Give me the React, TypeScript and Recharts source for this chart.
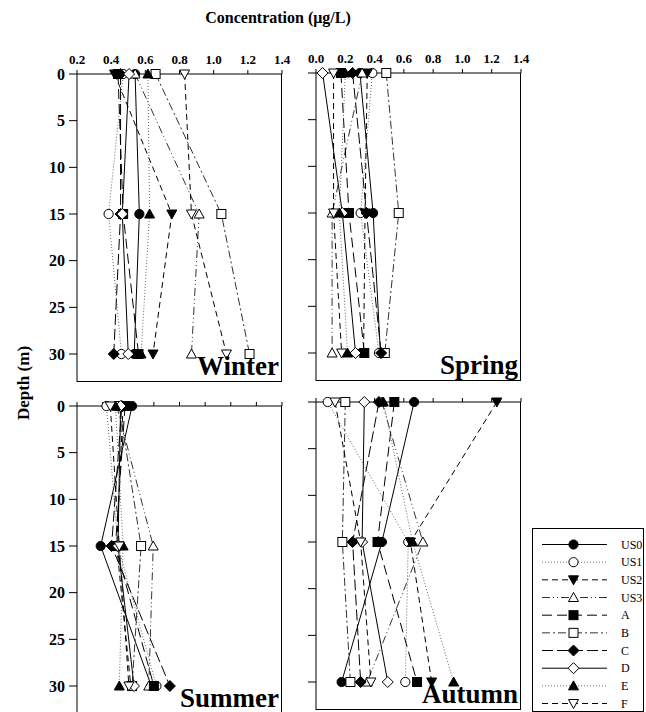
import { LineChart, Line, XAxis, YAxis } from 'recharts'

const depths = [0, 15, 30]
const depthTicks = [0, 5, 10, 15, 20, 25, 30]
const sites = ['US0', 'US1', 'US2', 'US3', 'A', 'B', 'C', 'D', 'E', 'F']

const winterTicks = [0.2, 0.4, 0.6, 0.8, 1.0, 1.2, 1.4]
const springTicks = [0, 0.2, 0.4, 0.6, 0.8, 1.0, 1.2, 1.4]
const summerTicks = [0, 0.2, 0.4, 0.6, 0.8, 1.0, 1.2, 1.4, 1.6]

// concentration at 0, 15 and 30 m, one row per site (same order as sites)
const winter = [
  [0.54, 0.565, 0.535],
  [0.47, 0.385, 0.46],
  [0.42, 0.755, 0.645],
  [0.54, 0.915, 0.87],
  [0.44, 0.47, 0.56],
  [0.66, 1.045, 1.21],
  [0.455, 0.455, 0.415],
  [0.505, 0.465, 0.5],
  [0.615, 0.625, 0.575],
  [0.83, 0.87, 1.075],
]
const spring = [
  [0.3, 0.39, 0.44],
  [0.385, 0.305, 0.43],
  [0.35, 0.335, 0.325],
  [0.315, 0.11, 0.11],
  [0.17, 0.225, 0.33],
  [0.48, 0.565, 0.47],
  [0.25, 0.345, 0.445],
  [0.045, 0.18, 0.27],
  [0.2, 0.16, 0.215],
  [0.12, 0.12, 0.175],
]
const summer = [
  [0.43, 0.185, 0.58],
  [0.23, 0.32, 0.62],
  [0.36, 0.31, 0.42],
  [0.31, 0.595, 0.56],
  [0.375, 0.3, 0.6],
  [0.33, 0.5, 0.43],
  [0.35, 0.27, 0.725],
  [0.34, 0.32, 0.445],
  [0.3, 0.36, 0.33],
  [0.26, 0.33, 0.405],
]
const autumn = [
  [0.67, 0.45, 0.175],
  [0.08, 0.63, 0.61],
  [1.235, 0.645, 0.79],
  [0.45, 0.73, 0.35],
  [0.535, 0.42, 0.69],
  [0.2, 0.18, 0.235],
  [0.43, 0.25, 0.305],
  [0.33, 0.315, 0.49],
  [0.46, 0.66, 0.94],
  [0.13, 0.305, 0.375],
]

type Shape = 'circle' | 'down' | 'up' | 'square' | 'diamond'
const looks: { shape: Shape; filled: boolean; dash?: string; color: string }[] = [
  { shape: 'circle', filled: true, color: '#000' },
  { shape: 'circle', filled: false, dash: '1 2', color: '#666' },
  { shape: 'down', filled: true, dash: '6 4', color: '#000' },
  { shape: 'up', filled: false, dash: '8 3 1 3 1 3', color: '#333' },
  { shape: 'square', filled: true, dash: '10 5', color: '#000' },
  { shape: 'square', filled: false, dash: '8 3 2 3', color: '#333' },
  { shape: 'diamond', filled: true, dash: '11 4', color: '#000' },
  { shape: 'diamond', filled: false, color: '#000' },
  { shape: 'up', filled: true, dash: '1 2', color: '#666' },
  { shape: 'down', filled: false, dash: '6 4', color: '#000' },
]

const serif = '"Liberation Serif", "Times New Roman", serif'

function Marker({ cx, cy, shape, filled }: { cx?: number; cy?: number; shape: Shape; filled: boolean }) {
  if (cx == null || cy == null) return null
  const p = { fill: filled ? '#000' : '#fff', stroke: '#000', strokeWidth: 1 }
  if (shape === 'circle') return <circle cx={cx} cy={cy} r={4.6} {...p} />
  if (shape === 'square') return <rect x={cx - 4.5} y={cy - 4.5} width={9} height={9} {...p} />
  if (shape === 'diamond')
    return <polygon points={`${cx},${cy - 5.5} ${cx + 5.5},${cy} ${cx},${cy + 5.5} ${cx - 5.5},${cy}`} {...p} />
  if (shape === 'up') return <polygon points={`${cx},${cy - 5} ${cx + 5},${cy + 4} ${cx - 5},${cy + 4}`} {...p} />
  return <polygon points={`${cx - 5},${cy - 4} ${cx + 5},${cy - 4} ${cx},${cy + 5}`} {...p} />
}

interface PanelProps {
  values: number[][]
  ticks: number[]
  x0: number
  y0: number
  w: number
  h: number
  xLabels: boolean
  yLabels: boolean
  title: string
}

function Panel({ values, ticks, x0, y0, w, h, xLabels, yLabels, title }: PanelProps) {
  const data = depths.map((d, i) => {
    const row: Record<string, number> = { depth: d }
    sites.forEach((s, j) => (row[s] = values[j][i]))
    return row
  })
  const yw = 40
  const xh = 30
  return (
    <>
      <div style={{ position: 'absolute', left: x0 - yw, top: y0 - xh }}>
        <LineChart
          width={yw + w + 12}
          height={xh + h + 12}
          data={data}
          layout="vertical"
          margin={{ top: 0, right: 12, bottom: 12, left: 0 }}
        >
          <XAxis
            type="number"
            orientation="top"
            domain={[ticks[0], ticks[ticks.length - 1]]}
            ticks={ticks}
            height={xh}
            tickSize={4}
            tickMargin={6}
            tickFormatter={(v: number) => (xLabels ? v.toFixed(1) : '')}
            tick={{ fontFamily: serif, fontWeight: 'bold', fontSize: 13, fill: '#000' }}
            axisLine={{ stroke: '#000' }}
            tickLine={{ stroke: '#000' }}
          />
          <YAxis
            type="number"
            dataKey="depth"
            domain={[0, 33]}
            ticks={depthTicks}
            width={yw}
            tickSize={8}
            tickMargin={4}
            tickFormatter={(v: number) => (yLabels ? String(v) : '')}
            tick={{ fontFamily: serif, fontWeight: 'bold', fontSize: 16, fill: '#000' }}
            axisLine={{ stroke: '#000' }}
            tickLine={{ stroke: '#000' }}
          />
          {sites.map((s, j) => {
            const lk = looks[j]
            return (
              <Line
                key={s}
                dataKey={s}
                stroke={lk.color}
                strokeWidth={1}
                strokeDasharray={lk.dash}
                isAnimationActive={false}
                activeDot={false}
                dot={(p: any) => (
                  <Marker key={`${s}-${p.index}`} cx={p.cx} cy={p.cy} shape={lk.shape} filled={lk.filled} />
                )}
              />
            )
          })}
        </LineChart>
      </div>
      <div
        style={{
          position: 'absolute',
          left: x0,
          top: y0,
          width: w,
          height: h,
          borderRight: '1px solid #000',
          borderBottom: '1px solid #000',
          boxSizing: 'border-box',
          pointerEvents: 'none',
        }}
      />
      <div
        style={{
          position: 'absolute',
          right: 646 - (x0 + w) + 3,
          top: y0 + h - 29,
          font: `bold 27px ${serif}`,
          lineHeight: '27px',
          whiteSpace: 'nowrap',
        }}
      >
        {title}
      </div>
    </>
  )
}

function LegendBox() {
  return (
    <svg style={{ position: 'absolute', left: 532, top: 528 }} width={112} height={184}>
      <rect x={0.5} y={0.5} width={111} height={183} fill="#fff" stroke="#000" />
      {sites.map((s, i) => {
        const lk = looks[i]
        const y = 16.5 + i * 17.67
        return (
          <g key={s}>
            <line x1={10} x2={75} y1={y} y2={y} stroke={lk.color} strokeDasharray={lk.dash} />
            <Marker cx={41.5} cy={y} shape={lk.shape} filled={lk.filled} />
            <text x={89} y={y} dominantBaseline="central" fontFamily={serif} fontSize={12} fill="#000">
              {s}
            </text>
          </g>
        )
      })}
    </svg>
  )
}

export default function App() {
  return (
    <div
      style={{
        position: 'absolute',
        left: 0,
        top: 0,
        width: 646,
        height: 712,
        background: '#fff',
        overflow: 'hidden',
        fontFamily: serif,
      }}
    >
      <div
        style={{
          position: 'absolute',
          left: 278,
          top: 9,
          transform: 'translateX(-50%)',
          font: `bold 16px ${serif}`,
          whiteSpace: 'nowrap',
        }}
      >
        Concentration (μg/L)
      </div>
      <div
        style={{
          position: 'absolute',
          left: 24,
          top: 383,
          transform: 'translate(-50%, -50%) rotate(-90deg)',
          font: `bold 17px ${serif}`,
          whiteSpace: 'nowrap',
        }}
      >
        Depth (m)
      </div>
      <Panel values={winter} ticks={winterTicks} x0={77} y0={74} w={205} h={308} xLabels yLabels title="Winter" />
      <Panel values={spring} ticks={springTicks} x0={316} y0={73} w={205} h={308} xLabels yLabels={false} title="Spring" />
      <Panel values={summer} ticks={summerTicks} x0={77} y0={406} w={205} h={308} xLabels={false} yLabels title="Summer" />
      <Panel values={autumn} ticks={springTicks} x0={316} y0={402} w={205} h={308} xLabels={false} yLabels={false} title="Autumn" />
      <LegendBox />
    </div>
  )
}
